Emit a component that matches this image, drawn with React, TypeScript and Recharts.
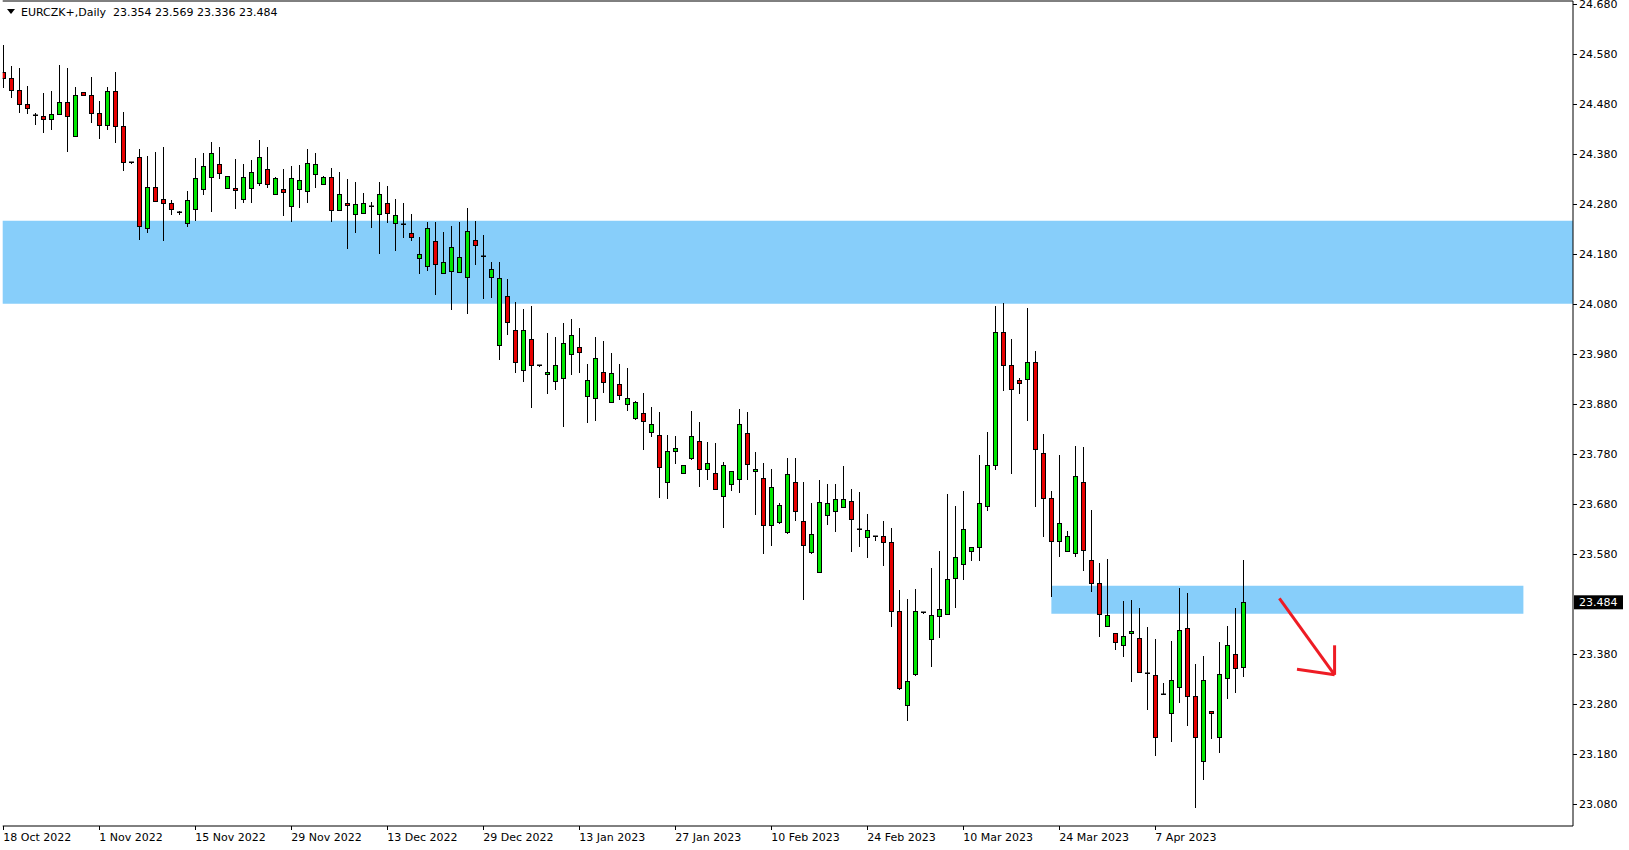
import React from "react";
import { ComposedChart, Bar, XAxis, YAxis, ReferenceArea, ReferenceLine } from "recharts";

const symbolTitle = "EURCZK+,Daily";
const lastQuote = [23.354, 23.569, 23.336, 23.484];

const dateLabels = [
  "18 Oct 2022", "1 Nov 2022", "15 Nov 2022", "29 Nov 2022", "13 Dec 2022", "29 Dec 2022",
  "13 Jan 2023", "27 Jan 2023", "10 Feb 2023", "24 Feb 2023", "10 Mar 2023", "24 Mar 2023", "7 Apr 2023",
];
const dateTickBars = [0, 12, 24, 36, 48, 60, 72, 84, 96, 108, 120, 132, 144];

const priceTicks = [
  24.68, 24.58, 24.48, 24.38, 24.28, 24.18, 24.08, 23.98, 23.88, 23.78, 23.68, 23.58, 23.38, 23.28, 23.18, 23.08,
];

const opens = [
  24.544, 24.532, 24.508, 24.480, 24.459, 24.457, 24.450, 24.460, 24.484, 24.416,
  24.504, 24.498, 24.462, 24.438, 24.506, 24.436, 24.364, 24.374, 24.232, 24.314,
  24.290, 24.282, 24.265, 24.242, 24.270, 24.310, 24.334, 24.360, 24.312, 24.312,
  24.290, 24.312, 24.322, 24.350, 24.300, 24.310, 24.276, 24.310, 24.306, 24.340,
  24.320, 24.334, 24.268, 24.282, 24.260, 24.262, 24.277, 24.260, 24.282, 24.242,
  24.240, 24.222, 24.172, 24.156, 24.206, 24.142, 24.146, 24.144, 24.134, 24.208,
  24.176, 24.134, 23.998, 24.096, 24.028, 23.948, 24.010, 23.958, 23.940, 23.926,
  23.932, 23.980, 23.994, 23.896, 23.892, 23.944, 23.884, 23.920, 23.880, 23.852,
  23.862, 23.824, 23.818, 23.724, 23.786, 23.742, 23.772, 23.806, 23.750, 23.742,
  23.696, 23.720, 23.730, 23.822, 23.746, 23.732, 23.638, 23.644, 23.625, 23.724,
  23.646, 23.584, 23.544, 23.658, 23.666, 23.674, 23.686, 23.631, 23.614, 23.616,
  23.616, 23.604, 23.466, 23.278, 23.340, 23.464, 23.410, 23.456, 23.460, 23.532,
  23.560, 23.586, 23.594, 23.676, 23.758, 24.024, 23.958, 23.928, 23.930, 23.964,
  23.782, 23.692, 23.606, 23.586, 23.582, 23.724, 23.568, 23.522, 23.436, 23.422,
  23.398, 23.422, 23.412, 23.343, 23.338, 23.300, 23.262, 23.314, 23.432, 23.296,
  23.166, 23.266, 23.214, 23.332, 23.380, 23.354,
];

const highs = [
  24.599, 24.557, 24.553, 24.517, 24.462, 24.503, 24.507, 24.559, 24.553, 24.515,
  24.504, 24.535, 24.487, 24.515, 24.545, 24.465, 24.365, 24.390, 24.377, 24.385,
  24.394, 24.289, 24.266, 24.307, 24.373, 24.383, 24.405, 24.395, 24.336, 24.371,
  24.361, 24.368, 24.409, 24.395, 24.334, 24.351, 24.357, 24.359, 24.391, 24.383,
  24.336, 24.353, 24.344, 24.331, 24.324, 24.302, 24.284, 24.324, 24.317, 24.291,
  24.283, 24.261, 24.215, 24.245, 24.245, 24.224, 24.236, 24.245, 24.272, 24.247,
  24.219, 24.165, 24.165, 24.130, 24.084, 24.070, 24.077, 23.959, 24.022, 24.014,
  24.042, 24.050, 24.032, 23.960, 24.014, 24.006, 23.982, 23.960, 23.952, 23.886,
  23.902, 23.874, 23.864, 23.818, 23.816, 23.758, 23.866, 23.844, 23.804, 23.802,
  23.764, 23.746, 23.870, 23.864, 23.784, 23.762, 23.750, 23.682, 23.772, 23.772,
  23.724, 23.682, 23.728, 23.720, 23.720, 23.757, 23.710, 23.704, 23.660, 23.616,
  23.646, 23.632, 23.508, 23.490, 23.510, 23.465, 23.552, 23.586, 23.700, 23.676,
  23.707, 23.594, 23.778, 23.824, 24.077, 24.083, 24.010, 23.932, 24.073, 23.986,
  23.820, 23.706, 23.779, 23.626, 23.796, 23.795, 23.668, 23.562, 23.570, 23.422,
  23.486, 23.488, 23.472, 23.434, 23.410, 23.322, 23.406, 23.512, 23.502, 23.360,
  23.376, 23.266, 23.404, 23.436, 23.472, 23.569,
];

const lows = [
  24.515, 24.495, 24.465, 24.463, 24.440, 24.425, 24.431, 24.460, 24.387, 24.416,
  24.498, 24.445, 24.413, 24.431, 24.405, 24.349, 24.363, 24.211, 24.225, 24.286,
  24.209, 24.261, 24.261, 24.237, 24.249, 24.300, 24.267, 24.333, 24.312, 24.273,
  24.285, 24.285, 24.318, 24.315, 24.300, 24.259, 24.246, 24.275, 24.285, 24.315,
  24.320, 24.247, 24.268, 24.193, 24.225, 24.262, 24.235, 24.183, 24.245, 24.189,
  24.215, 24.209, 24.143, 24.149, 24.101, 24.142, 24.071, 24.144, 24.063, 24.160,
  24.093, 24.095, 23.971, 24.021, 23.945, 23.927, 23.875, 23.957, 23.903, 23.911,
  23.837, 23.941, 23.944, 23.844, 23.848, 23.904, 23.884, 23.890, 23.868, 23.850,
  23.791, 23.816, 23.695, 23.693, 23.762, 23.742, 23.770, 23.717, 23.730, 23.710,
  23.635, 23.708, 23.704, 23.731, 23.661, 23.583, 23.599, 23.642, 23.622, 23.648,
  23.491, 23.582, 23.544, 23.640, 23.626, 23.674, 23.586, 23.597, 23.575, 23.608,
  23.558, 23.436, 23.310, 23.248, 23.338, 23.463, 23.356, 23.414, 23.460, 23.474,
  23.530, 23.568, 23.568, 23.668, 23.750, 23.908, 23.742, 23.902, 23.848, 23.676,
  23.616, 23.497, 23.576, 23.586, 23.576, 23.549, 23.507, 23.417, 23.436, 23.391,
  23.377, 23.327, 23.344, 23.271, 23.178, 23.300, 23.206, 23.284, 23.238, 23.075,
  23.130, 23.212, 23.184, 23.292, 23.304, 23.336,
];

const closes = [
  24.533, 24.508, 24.480, 24.472, 24.459, 24.450, 24.460, 24.484, 24.456, 24.498,
  24.498, 24.462, 24.438, 24.506, 24.436, 24.364, 24.364, 24.237, 24.314, 24.286,
  24.282, 24.270, 24.265, 24.288, 24.332, 24.356, 24.382, 24.342, 24.336, 24.308,
  24.334, 24.344, 24.374, 24.320, 24.332, 24.304, 24.332, 24.328, 24.362, 24.360,
  24.334, 24.268, 24.300, 24.278, 24.280, 24.282, 24.277, 24.300, 24.262, 24.258,
  24.240, 24.214, 24.180, 24.232, 24.160, 24.164, 24.194, 24.174, 24.226, 24.198,
  24.176, 24.150, 24.133, 24.045, 23.964, 24.028, 23.958, 23.958, 23.944, 23.958,
  24.002, 24.018, 23.984, 23.928, 23.972, 23.924, 23.942, 23.898, 23.892, 23.884,
  23.846, 23.840, 23.754, 23.786, 23.792, 23.758, 23.816, 23.750, 23.762, 23.710,
  23.758, 23.746, 23.840, 23.760, 23.750, 23.638, 23.714, 23.678, 23.740, 23.666,
  23.598, 23.620, 23.684, 23.682, 23.690, 23.690, 23.650, 23.631, 23.628, 23.616,
  23.604, 23.466, 23.312, 23.326, 23.466, 23.464, 23.458, 23.470, 23.530, 23.574,
  23.631, 23.594, 23.682, 23.758, 24.024, 23.958, 23.910, 23.922, 23.964, 23.790,
  23.692, 23.606, 23.642, 23.616, 23.736, 23.588, 23.522, 23.460, 23.458, 23.404,
  23.416, 23.426, 23.344, 23.343, 23.214, 23.300, 23.328, 23.428, 23.296, 23.214,
  23.328, 23.262, 23.340, 23.398, 23.352, 23.484,
];

// zones drawn on the chart (bar index / price)
const upperZone = [24.081, 24.247];
const lowerZoneBars = [131, 190];
const lowerZonePrices = [23.461, 23.517];
// red arrow: shaft and two head strokes, [bar, price]
const arrowShaft = [[159.5, 23.492], [166.4, 23.339]];
const arrowHeadLeft = [[161.7, 23.35], [166.4, 23.339]];
const arrowHeadUp = [[166.4, 23.398], [166.4, 23.339]];

const X_DOMAIN = [-0.075, 196.2];
const Y_DOMAIN = [23.0366, 24.6866];

const rows = opens.map((o, i) => ({ i, open: o, high: highs[i], low: lows[i], close: closes[i] }));

const BULL = "#00e600";
const BEAR = "#e60000";
const AXIS_FONT = "DejaVu Sans, Verdana, sans-serif";

function Candle(props: any) {
  const { x, y, width, height, payload } = props;
  if (x == null || !payload) return null;
  const top = Math.min(y, y + height);
  const span = Math.abs(height);
  const { open, high, low, close } = payload;
  const k = high > low ? span / (high - low) : 0;
  const py = (v: number) => top + (high - v) * k;
  const cx = Math.floor(x + width / 2) + 0.5;
  const yo = Math.round(py(open));
  const yc = Math.round(py(close));
  const bTop = Math.min(yo, yc);
  const bBot = Math.max(yo, yc);
  const wick = (
    <line x1={cx} x2={cx} y1={Math.round(top)} y2={Math.round(top + span) + 1} stroke="#000" strokeWidth={1} />
  );
  if (open === close) {
    return (
      <g>
        {wick}
        <rect x={cx - 2.5} y={bTop - 0.5} width={5} height={1.5} fill="#000" />
      </g>
    );
  }
  return (
    <g>
      {wick}
      <rect
        x={cx - 2}
        y={bTop + 0.5}
        width={4}
        height={Math.max(bBot - bTop, 1)}
        fill={close > open ? BULL : BEAR}
        stroke="#000"
        strokeWidth={1}
      />
    </g>
  );
}

function DateTick(props: any) {
  const { x, y, payload } = props;
  const idx = dateTickBars.indexOf(payload.value);
  const tx = Math.floor(x) + 0.5;
  return (
    <g>
      <line x1={tx} x2={tx} y1={y} y2={y + 4} stroke="#000" />
      <text x={x} y={y + 15} fontSize={11} fontFamily={AXIS_FONT} fill="#000">
        {dateLabels[idx]}
      </text>
    </g>
  );
}

function PriceTick(props: any) {
  const { x, y, payload } = props;
  const v = payload.value;
  if (v === lastQuote[3]) {
    return (
      <g>
        <rect x={x + 1} y={y - 7} width={49} height={14} fill="#000" />
        <text x={x + 6} y={y + 4} fontSize={11} fontFamily={AXIS_FONT} fill="#fff">
          {v.toFixed(3)}
        </text>
      </g>
    );
  }
  const ty = Math.round(y) + 0.5;
  return (
    <g>
      <line x1={x} x2={x + 4} y1={ty} y2={ty} stroke="#000" />
      <text x={x + 6} y={y + 4} fontSize={11} fontFamily={AXIS_FONT} fill="#000">
        {v.toFixed(3)}
      </text>
    </g>
  );
}

const seg = (s: number[][]) => [
  { x: s[0][0], y: s[0][1] },
  { x: s[1][0], y: s[1][1] },
];

export default function App() {
  return (
    <div style={{ position: "absolute", left: 0, top: 0, width: 1629, height: 850, background: "#fff" }}>
      <ComposedChart
        width={1629}
        height={850}
        data={rows}
        margin={{ top: 1, right: 0, bottom: 0, left: 2.7 }}
      >
        <XAxis
          dataKey="i"
          type="number"
          domain={X_DOMAIN}
          allowDataOverflow
          ticks={dateTickBars}
          interval={0}
          tick={<DateTick />}
          tickLine={false}
          tickSize={0}
          tickMargin={0}
          axisLine={{ stroke: "#000" }}
          height={24}
        />
        <YAxis
          orientation="right"
          type="number"
          domain={Y_DOMAIN}
          allowDataOverflow
          ticks={[...priceTicks, lastQuote[3]]}
          interval={0}
          tick={<PriceTick />}
          tickLine={false}
          tickSize={0}
          tickMargin={0}
          axisLine={{ stroke: "#000" }}
          width={56}
        />
        <ReferenceLine y={Y_DOMAIN[1]} stroke="#000" />
        <ReferenceArea y1={upperZone[0]} y2={upperZone[1]} fill="#87cefa" fillOpacity={1} stroke="none" />
        <ReferenceArea
          x1={lowerZoneBars[0]}
          x2={lowerZoneBars[1]}
          y1={lowerZonePrices[0]}
          y2={lowerZonePrices[1]}
          fill="#87cefa"
          fillOpacity={1}
          stroke="none"
        />
        <Bar
          dataKey={(d: any) => [d.low, d.high]}
          shape={<Candle />}
          barSize={8}
          isAnimationActive={false}
        />
        <ReferenceLine segment={seg(arrowShaft)} stroke="#ee1c24" strokeWidth={3} />
        <ReferenceLine segment={seg(arrowHeadLeft)} stroke="#ee1c24" strokeWidth={3} />
        <ReferenceLine segment={seg(arrowHeadUp)} stroke="#ee1c24" strokeWidth={3} />
      </ComposedChart>
      <svg width={300} height={24} style={{ position: "absolute", left: 0, top: 0 }}>
        <polygon points="7,9 15,9 11,14" fill="#000" />
        <text x={21} y={16} fontSize={11} fontFamily={AXIS_FONT} fill="#000" style={{ whiteSpace: "pre" }}>
          {symbolTitle + "  " + lastQuote.map((v) => v.toFixed(3)).join(" ")}
        </text>
      </svg>
    </div>
  );
}
